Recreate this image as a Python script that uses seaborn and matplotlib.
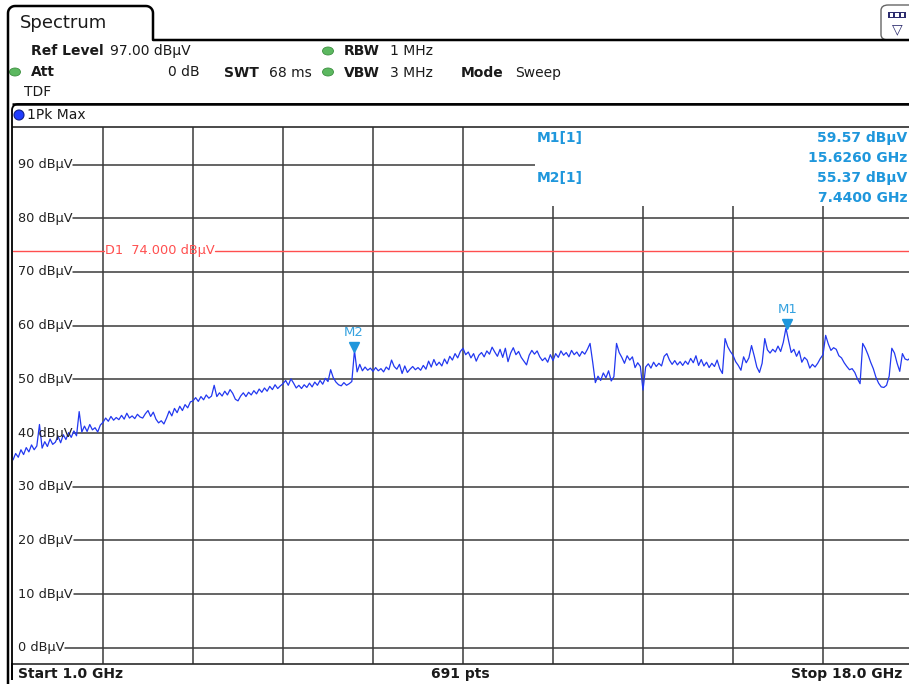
import numpy as np
import pandas as pd
import matplotlib
matplotlib.use("Agg")
import matplotlib.pyplot as plt
import seaborn as sns
from matplotlib.lines import Line2D
from matplotlib.patches import Rectangle, Ellipse, FancyBboxPatch
from matplotlib.transforms import blended_transform_factory, offset_copy

# ---------------- data ----------------
START_GHZ, STOP_GHZ, N_SWEEP = 1.0, 18.0, 341
REF_LEVEL = 97.0
RANGE_DB = 100.0

level_div1 = [35.0, 36.2, 35.5, 36.9, 36.0, 37.3, 36.5, 37.8, 36.9, 37.6, 41.6, 37.2,
              38.4, 37.5, 38.9, 37.9, 38.3, 39.4, 38.2, 39.7, 38.8, 40.1, 39.2, 40.4,
              39.5, 44.0, 40.2, 41.3, 40.3, 41.6, 40.6, 41.0, 40.2, 41.5]
level_div2 = [42.0, 42.8, 42.2, 43.1, 42.4, 42.9, 42.5, 43.3, 42.6, 43.7, 42.8, 43.2,
              42.7, 43.5, 43.0, 42.8, 43.6, 44.2, 43.1, 43.9, 42.6, 41.9, 42.3, 41.7,
              42.8, 44.1, 43.2, 44.6, 43.8, 45.0, 44.2, 45.3, 44.7, 45.8]
level_div3 = [46.0, 46.6, 45.9, 46.8, 46.2, 47.1, 46.5, 46.9, 48.9, 46.8, 47.5, 46.9,
              47.8, 47.1, 48.1, 47.4, 46.3, 46.0, 46.9, 47.5, 46.8, 47.6, 47.1, 47.9,
              47.3, 48.2, 47.6, 48.4, 47.8, 48.7, 48.1, 49.0, 48.3, 48.8]
level_div4 = [49.2, 49.8, 48.9, 50.1, 49.3, 48.4, 48.9, 48.3, 49.0, 48.5, 49.3, 48.6,
              49.5, 48.9, 49.8, 49.1, 50.2, 49.6, 51.8, 50.3, 49.5, 49.0, 48.8, 49.4,
              48.9, 49.2, 49.6, 55.37, 51.4, 52.8, 51.6, 52.3, 51.7, 52.1]
level_div5 = [51.5, 52.2, 51.6, 52.0, 51.4, 52.3, 51.8, 53.6, 52.4, 51.9, 52.8, 51.1,
              52.5, 51.3, 51.9, 52.4, 51.8, 52.2, 51.7, 52.6, 51.9, 53.4, 52.3, 53.7,
              52.6, 53.2, 52.5, 53.8, 52.9, 54.3, 53.6, 54.8, 54.0, 55.2]
level_div6 = [55.8, 54.6, 55.1, 54.0, 54.8, 53.4, 54.5, 55.0, 54.2, 55.3, 54.7, 56.0,
              55.1, 54.3, 55.6, 54.1, 55.8, 53.3, 54.9, 55.9, 54.6, 55.2, 54.1, 53.4,
              52.7, 54.5, 55.4, 54.7, 55.3, 54.2, 53.5, 54.0, 53.2, 54.6]
level_div7 = [53.5, 54.8, 54.1, 55.3, 54.5, 55.0, 54.2, 55.4, 54.6, 55.1, 54.3, 55.2,
              54.7, 55.6, 56.7, 53.2, 49.4, 50.6, 49.8, 51.2, 50.3, 51.6, 49.7, 50.5,
              56.7, 55.0, 54.1, 53.0, 54.4, 53.6, 54.2, 52.2, 53.1, 52.4]
level_div8 = [48.0, 52.3, 52.9, 52.1, 53.2, 52.4, 53.0, 52.5, 54.3, 54.8, 53.6, 52.8,
              53.5, 52.7, 53.3, 52.6, 53.4, 52.8, 53.9, 53.1, 54.4, 52.6, 53.7, 52.5,
              53.2, 52.2, 53.0, 52.4, 53.6, 52.0, 51.1, 57.6, 56.1, 55.2]
level_div9 = [54.5, 53.3, 52.6, 51.7, 54.2, 53.1, 54.0, 56.3, 54.4, 52.3, 51.3, 53.0,
              57.6, 55.5, 54.9, 55.6, 55.1, 56.2, 55.2, 56.9, 59.57, 57.2, 55.0, 55.6,
              54.3, 55.3, 53.2, 54.1, 53.6, 52.1, 52.8, 52.3, 53.0, 53.9]
level_div10 = [54.6, 58.2, 56.6, 55.4, 55.9, 55.6, 54.4, 54.0, 53.1, 52.4, 51.8, 52.0,
               51.3, 50.1, 49.2, 56.7, 55.8, 54.6, 53.2, 52.0, 50.4, 49.3, 48.6, 48.5,
               48.9, 50.6, 55.8, 54.9, 53.0, 51.5, 54.8, 53.8, 53.6, 54.0, 53.5]

y_grid_db = [0, 10, 20, 30, 40, 50, 60, 70, 80, 90]
x_grid_ghz = [2.7, 4.4, 6.1, 7.8, 9.5, 11.2, 12.9, 14.6, 16.3]
display_line_db = 74.0

marker_names = ["M1", "M2"]
marker_freq = [15.626, 7.44]
marker_level = [59.57, 55.37]
marker_freq_txt = ["15.6260 GHz", "7.4400 GHz"]
marker_level_txt = ["59.57 dBµV", "55.37 dBµV"]

level = np.array(level_div1 + level_div2 + level_div3 + level_div4 + level_div5 +
                 level_div6 + level_div7 + level_div8 + level_div9 + level_div10)
freq = np.linspace(START_GHZ, STOP_GHZ, N_SWEEP)
df = pd.DataFrame({"freq": freq, "level": level})

# ---------------- style ----------------
sns.set_style("white")
plt.rcParams["font.family"] = ["DejaVu Sans"]

W, H = 909, 684
fig = plt.figure(figsize=(W / 100, H / 100), dpi=100)
fig.patch.set_facecolor("white")

GRID = "#3a3a3a"
TXT = "#1a1a1a"
TRACE = "#2238f0"
MK = "#1f97dc"
RED = "#ff4f4f"


def fx(x):
    return x / W


def fy(y):
    return 1 - y / H


def T(x, y, s, **kw):
    kw.setdefault("va", "center")
    kw.setdefault("color", TXT)
    kw.setdefault("fontsize", 10)
    return fig.text(fx(x), fy(y), s, **kw)


def L(xs, ys, lw=1.0, color="black", **kw):
    fig.add_artist(Line2D([fx(v) for v in xs], [fy(v) for v in ys], lw=lw,
                          color=color, solid_capstyle="butt", **kw))


def arc(cx, cy, r, a0, a1, n=8):
    t = np.linspace(np.radians(a0), np.radians(a1), n)
    return list(cx + r * np.cos(t)), list(cy - r * np.sin(t))


# ---------------- plot axes ----------------
ax_left, ax_top, ax_bot = 13, 127, 664
ax = fig.add_axes([fx(ax_left), fy(ax_bot), 900 / W, (ax_bot - ax_top) / H])
ax.set_xlim(START_GHZ, STOP_GHZ)
ax.set_ylim(REF_LEVEL - RANGE_DB, REF_LEVEL)
ax.set_xticks([])
ax.set_yticks([])
for side in ["left", "right"]:
    ax.spines[side].set_visible(False)
for side in ["top", "bottom"]:
    ax.spines[side].set_color("#2a2a2a")
    ax.spines[side].set_linewidth(1.2)

for f in x_grid_ghz:
    ax.axvline(f, color=GRID, lw=1.1, zorder=1)

bt = blended_transform_factory(ax.transAxes, ax.transData)
labels = []
for v in y_grid_db:
    t = ax.text(0.0056, v, f"{v} dBµV", transform=bt, ha="left", va="center",
                fontsize=9.3, color="#222222", zorder=4)
    labels.append(t)

fig.canvas.draw()
rend = fig.canvas.get_renderer()
inv = ax.transAxes.inverted()
for v, t in zip(y_grid_db, labels):
    bb = t.get_window_extent(rend)
    xr = inv.transform((bb.x1, 0))[0]
    ax.axhline(v, xmin=xr + 0.001, xmax=1, color=GRID, lw=1.1, zorder=1)

# marker info area (white box)
ax.add_patch(Rectangle((0.58, 0.853), 0.42, 0.147, transform=ax.transAxes,
                       fc="white", ec="none", zorder=1.5))

# display line D1
d1 = ax.text(0.102, display_line_db, "D1  74.000 dBµV", transform=bt, ha="left",
             va="center", fontsize=9.3, color=RED, zorder=4)
fig.canvas.draw()
bb = d1.get_window_extent(rend)
x0 = inv.transform((bb.x0, 0))[0]
x1 = inv.transform((bb.x1, 0))[0]
ax.axhline(display_line_db, xmin=0, xmax=x0 - 0.001, color=RED, lw=1.0, zorder=2)
ax.axhline(display_line_db, xmin=x1 + 0.001, xmax=1, color=RED, lw=1.0, zorder=2)

# trace
sns.lineplot(data=df, x="freq", y="level", ax=ax, color=TRACE, lw=0.9,
             estimator=None, zorder=3, legend=False)
ax.set_xlabel("")
ax.set_ylabel("")

# markers
tri = offset_copy(ax.transData, fig=fig, x=0, y=4, units="dots")
for name, f, lv in zip(marker_names, marker_freq, marker_level):
    ax.plot([f], [lv], marker="v", ms=7, color=MK, mec=MK, transform=tri,
            zorder=5, clip_on=False)
    ax.annotate(name, xy=(f, lv), xytext=(0, 12), textcoords="offset pixels",
                ha="center", va="bottom", fontsize=9.5, color="#35a2e0", zorder=5)

# marker table
for i, (name, ftxt, ltxt) in enumerate(zip(marker_names, marker_freq_txt, marker_level_txt)):
    y0 = 138 + i * 40
    T(537, y0, f"{name}[1]", color=MK, fontweight="bold", fontsize=10)
    T(907, y0, ltxt, color=MK, fontweight="bold", fontsize=10, ha="right")
    T(907, y0 + 20, ftxt, color=MK, fontweight="bold", fontsize=10, ha="right")

# ---------------- frame / header ----------------
# tab + outer left border
ax_, ay_ = arc(15, 13, 7, 180, 90)
bx_, by_ = arc(146, 13, 7, 90, 0)
L([8] + ax_ + bx_ + [153, W], [H] + ay_ + by_ + [40, 40], lw=1.8)
T(20, 23, "Spectrum", fontsize=13)

# inner frame
cx_, cy_ = arc(18, 110, 6, 180, 90)
L([12] + cx_ + [W], [H - 4] + cy_ + [104], lw=1.3)
L([12, 12], [663, 680], lw=1.3)
L([12, W], [104, 104], lw=1.8)

# right icon
fig.add_artist(FancyBboxPatch((fx(881), fy(40)), fx(40) - fx(0), fy(5) - fy(40),
                              boxstyle="round,pad=0,rounding_size=0.008",
                              transform=fig.transFigure, fc="white", ec="#666666", lw=1.0))
fig.add_artist(Rectangle((fx(888), fy(18)), 18 / W, 6 / H,
                         transform=fig.transFigure, fc="#2c2c6e", ec="none"))
for k in range(3):
    fig.add_artist(Rectangle((fx(889.5 + k * 5.5), fy(16.5)), 3.5 / W, 3 / H,
                             transform=fig.transFigure, fc="white", ec="none"))
T(897, 29, "▽", fontsize=10, color="#2c2c6e", ha="center")

# header texts
T(31, 51, "Ref Level", fontweight="bold")
T(110, 51, "97.00 dBµV")
T(31, 72, "Att", fontweight="bold")
T(200, 72, "0 dB", ha="right")
T(224, 73, "SWT", fontweight="bold")
T(269, 73, "68 ms")
T(344, 51, "RBW", fontweight="bold")
T(390, 51, "1 MHz")
T(344, 73, "VBW", fontweight="bold")
T(390, 73, "3 MHz")
T(461, 73, "Mode", fontweight="bold")
T(515, 73, "Sweep")
T(24, 92, "TDF")
T(27, 115, "1Pk Max")

for (x, y) in [(15, 72), (328, 51), (328, 72)]:
    fig.add_artist(Ellipse((fx(x), fy(y)), 11 / W, 8 / H, transform=fig.transFigure,
                           fc="#5cb860", ec="#3d8f40", lw=0.6))
fig.add_artist(Ellipse((fx(19), fy(115)), 10 / W, 10 / H, transform=fig.transFigure,
                       fc="#1f3cff", ec="#10208a", lw=0.8))

# status bar
T(18, 674, "Start 1.0 GHz", fontweight="bold")
T(460, 674, "691 pts", fontweight="bold", ha="center")
T(902, 674, "Stop 18.0 GHz", fontweight="bold", ha="right")

fig.savefig("out.png", dpi=100, facecolor="white")
